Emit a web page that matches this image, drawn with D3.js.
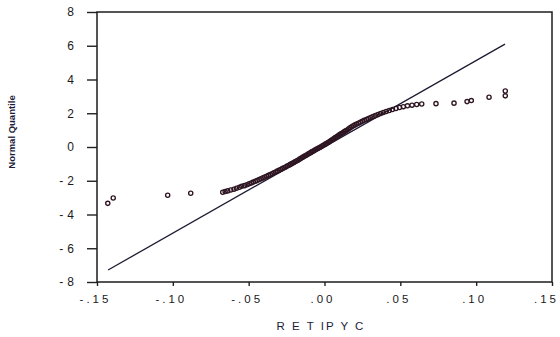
<!DOCTYPE html>
<html>
<head>
<meta charset="utf-8">
<script src="https://cdn.jsdelivr.net/npm/d3@7"></script>
<style>
  html, body { margin: 0; padding: 0; background: #ffffff; }
  svg { display: block; }
  text { font-family: "Liberation Sans", Arial, sans-serif; }
</style>
</head>
<body>
<svg id="chart" width="560" height="337"></svg>
<script>
// Axis ticks and their printed labels
const xTicks = [-0.15, -0.10, -0.05, 0.00, 0.05, 0.10, 0.15];
const xTickLabels = ["-.15", "-.10", "-.05", ".00", ".05", ".10", ".15"];
const yTicks = [-8, -6, -4, -2, 0, 2, 4, 6, 8];
const yTickLabels = ["-8", "-6", "-4", "-2", "0", "2", "4", "6", "8"];

// Sorted RETIPYC returns paired with their normal quantiles
const retipyc = [
  -0.1429, -0.1393, -0.1034, -0.0882,
  -0.0671, -0.0655, -0.0638, -0.0618, -0.0597, -0.0580, -0.0561, -0.0546, -0.0528, -0.0511,
  -0.0497, -0.0483, -0.0470, -0.0456, -0.0444, -0.0431, -0.0418, -0.0405, -0.0393, -0.0381,
  -0.0369, -0.0357, -0.0345, -0.0334, -0.0322, -0.0311, -0.0300, -0.0289, -0.0278, -0.0267,
  -0.0256, -0.0246, -0.0235, -0.0225, -0.0215, -0.0205, -0.0195, -0.0185, -0.0175, -0.0165,
  -0.0156, -0.0146, -0.0137, -0.0127, -0.0118, -0.0108, -0.0099, -0.0089, -0.0080, -0.0070,
  -0.0061, -0.0051, -0.0042, -0.0032, -0.0023, -0.0013, -0.0004, 0.0006, 0.0015, 0.0024,
  0.0034, 0.0043, 0.0051, 0.0060, 0.0069, 0.0077, 0.0086, 0.0094, 0.0103, 0.0112,
  0.0121, 0.0131, 0.0140, 0.0150, 0.0160, 0.0169, 0.0179, 0.0190, 0.0201, 0.0212,
  0.0224, 0.0236, 0.0249, 0.0262, 0.0276, 0.0290, 0.0305, 0.0320, 0.0336, 0.0353,
  0.0370, 0.0388, 0.0407, 0.0427, 0.0448, 0.0471, 0.0495, 0.0520, 0.0547, 0.0577,
  0.0608, 0.0641,
  0.0735, 0.0854, 0.0940, 0.0968, 0.1085, 0.1192, 0.1192
];
const normalQuantile = [
  -3.34, -3.02, -2.86, -2.74,
  -2.68, -2.64, -2.60, -2.55, -2.50, -2.44, -2.39, -2.33, -2.29, -2.24,
  -2.18, -2.13, -2.08, -2.03, -1.98, -1.93, -1.88, -1.83, -1.78, -1.73,
  -1.68, -1.63, -1.58, -1.53, -1.48, -1.43, -1.38, -1.33, -1.28, -1.23,
  -1.18, -1.13, -1.08, -1.03, -0.98, -0.93, -0.88, -0.83, -0.78, -0.73,
  -0.67, -0.62, -0.57, -0.52, -0.47, -0.42, -0.37, -0.32, -0.27, -0.22,
  -0.17, -0.12, -0.07, -0.03, 0.02, 0.07, 0.12, 0.17, 0.22, 0.27,
  0.32, 0.38, 0.43, 0.48, 0.54, 0.59, 0.64, 0.69, 0.75, 0.80,
  0.85, 0.91, 0.96, 1.01, 1.08, 1.14, 1.20, 1.26, 1.31, 1.36,
  1.41, 1.47, 1.52, 1.58, 1.63, 1.69, 1.75, 1.81, 1.86, 1.92,
  1.98, 2.04, 2.10, 2.16, 2.22, 2.28, 2.34, 2.39, 2.44, 2.48,
  2.52, 2.55,
  2.57, 2.60, 2.69, 2.75, 2.95, 3.03, 3.32
];

// Reference normal line, end points
const lineX = [-0.1427, 0.1190];
const lineQ = [-7.29, 6.10];

const svg = d3.select("#chart");
const plotLeft = 97, plotRight = 552, plotTop = 12, plotBottom = 282;

const x = d3.scaleLinear().domain([-0.15, 0.15]).range([plotLeft, plotRight]);
const y = d3.scaleLinear().domain([-8, 8]).range([plotBottom, plotTop]);

// Normal reference line
svg.append("line")
  .attr("x1", x(lineX[0])).attr("y1", y(lineQ[0]))
  .attr("x2", x(lineX[1])).attr("y2", y(lineQ[1]))
  .attr("stroke", "#1e1a33")
  .attr("stroke-width", 1.3);

// Quantile points
svg.append("g")
  .selectAll("circle")
  .data(retipyc.map((v, i) => [v, normalQuantile[i]]))
  .join("circle")
  .attr("cx", d => x(d[0]))
  .attr("cy", d => y(d[1]))
  .attr("r", 2.1)
  .attr("fill", "none")
  .attr("stroke", "#2e1522")
  .attr("stroke-width", 1.35);

// Left axis
const yAxis = svg.append("g")
  .attr("transform", `translate(${plotLeft},0)`)
  .call(d3.axisLeft(y).tickValues(yTicks).tickSize(10).tickSizeOuter(0).tickPadding(9)
    .tickFormat((d, i) => yTickLabels[i]));
yAxis.select(".domain").remove();
yAxis.selectAll(".tick line").attr("stroke", "#222").attr("stroke-width", 1.4);
yAxis.selectAll("text")
  .attr("font-size", 12)
  .attr("fill", "#1a1a1a")
  .attr("letter-spacing", 4)
  .attr("font-family", "Liberation Sans, Arial, sans-serif");

// Bottom axis
const xAxis = svg.append("g")
  .attr("transform", `translate(0,${plotBottom})`)
  .call(d3.axisBottom(x).tickValues(xTicks).tickSize(4).tickSizeOuter(0).tickPadding(9)
    .tickFormat((d, i) => xTickLabels[i]));
xAxis.select(".domain").remove();
xAxis.selectAll(".tick line").attr("stroke", "#222").attr("stroke-width", 1.4);
xAxis.selectAll("text")
  .attr("font-size", 11.5)
  .attr("fill", "#1a1a1a")
  .attr("letter-spacing", 3)
  .attr("dx", (d, i) => i === xTicks.length - 1 ? -6 : -2)
  .attr("font-family", "Liberation Sans, Arial, sans-serif");

// Plot frame
svg.append("rect")
  .attr("x", plotLeft).attr("y", plotTop)
  .attr("width", plotRight - plotLeft).attr("height", plotBottom - plotTop)
  .attr("fill", "none")
  .attr("stroke", "#1c1c1c")
  .attr("stroke-width", 1.5);

// Axis titles
svg.append("text")
  .attr("transform", `translate(15,132) rotate(-90)`)
  .attr("text-anchor", "middle")
  .attr("font-size", 9.5)
  .attr("font-weight", "bold")
  .attr("fill", "#1c1c3a")
  .text("Normal Quantile");

svg.append("text")
  .attr("x", 321).attr("y", 330)
  .attr("text-anchor", "middle")
  .attr("font-size", 11.5)
  .attr("letter-spacing", 2)
  .attr("fill", "#1c1c3a")
  .text("R E T IP Y C");
</script>
</body>
</html>
